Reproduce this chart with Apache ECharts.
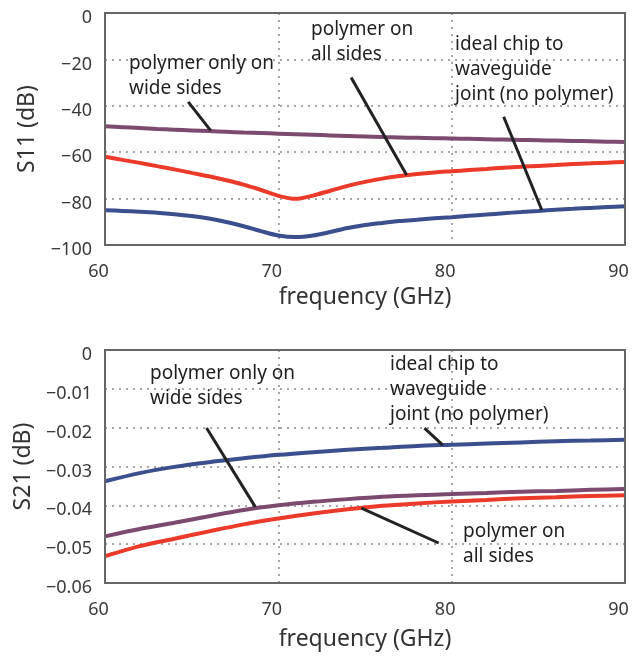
<!DOCTYPE html>
<html><head><meta charset="utf-8">
<script src="https://cdn.jsdelivr.net/npm/echarts@6/dist/echarts.min.js"></script>
<style>html,body{margin:0;padding:0;background:#fff}#c{width:635px;height:657px}</style>
</head><body><div id="c"></div>
<script>
// ---- data ----
const freqS11 = [60, 61, 62, 63, 64, 65, 66, 67, 68, 69, 70, 71, 72, 73, 74, 75, 76, 77, 78, 79, 80, 81, 82, 83, 84, 85, 86, 87, 88, 89, 90];
const s11Wide  = [-48.8, -49.2, -49.6, -50.0, -50.3, -50.6, -50.9, -51.2, -51.5, -51.75, -52.0, -52.25, -52.5, -52.75, -53.0, -53.25, -53.5, -53.65, -53.8, -53.95, -54.1, -54.25, -54.4, -54.55, -54.7, -54.85, -55.0, -55.15, -55.3, -55.45, -55.6];
const s11All   = [-62.0, -63.3, -64.6, -66.0, -67.4, -68.9, -70.4, -72.1, -74.0, -76.3, -78.8, -80.1, -78.7, -76.6, -74.5, -72.8, -71.4, -70.3, -69.4, -68.7, -68.2, -67.7, -67.2, -66.7, -66.3, -65.9, -65.5, -65.1, -64.8, -64.5, -64.2];
const s11Ideal = [-85.0, -85.3, -85.7, -86.1, -86.7, -87.5, -88.6, -90.1, -91.9, -94.0, -95.9, -96.6, -95.9, -94.4, -92.7, -91.4, -90.5, -89.7, -89.1, -88.5, -88.0, -87.4, -86.9, -86.3, -85.8, -85.3, -84.8, -84.4, -84.0, -83.6, -83.3];

const freqS21 = [60, 62, 64, 66, 68, 70, 72, 74, 76, 78, 80, 82, 84, 86, 88, 90];
const s21Wide  = [-0.0480, -0.0461, -0.0445, -0.0428, -0.0412, -0.0400, -0.0391, -0.0384, -0.0378, -0.0374, -0.0371, -0.0368, -0.0365, -0.0363, -0.0360, -0.0358];
const s21All   = [-0.0531, -0.0505, -0.0486, -0.0467, -0.0449, -0.0434, -0.0421, -0.0410, -0.0401, -0.0395, -0.0390, -0.0386, -0.0382, -0.0379, -0.0376, -0.0374];
const s21Ideal = [-0.0338, -0.0317, -0.0301, -0.0289, -0.0279, -0.0270, -0.0263, -0.0257, -0.0252, -0.0247, -0.0244, -0.0241, -0.0238, -0.0235, -0.0233, -0.0231];

const xTickValues = [60, 70, 80, 90];
const xTickLabels = ['60', '70', '80', '90'];
const s11TickValues = [0, -20, -40, -60, -80, -100];
const s11TickLabels = ['0', '\u221220', '\u221240', '\u221260', '\u221280', '\u2212100'];
const s21TickValues = [0, -0.01, -0.02, -0.03, -0.04, -0.05, -0.06];
const s21TickLabels = ['0', '\u22120.01', '\u22120.02', '\u22120.03', '\u22120.04', '\u22120.05', '\u22120.06'];

const xTitle = 'frequency (GHz)';
const s11Title = 'S11 (dB)';
const s21Title = 'S21 (dB)';
const textWide = 'polymer only on\nwide sides';
const textAll = 'polymer on\nall sides';
const textIdeal = 'ideal chip to\nwaveguide\njoint (no polymer)';

// pointer lines in data coordinates [start, end]
const pointersS11 = [
  [[64.8, -38.3], [66.1, -50.7]],
  [[74.2, -27.8], [77.4, -69.8]],
  [[83.0, -44.7], [85.2, -84.9]]
];
const pointersS21 = [
  [[65.86, -0.0201], [68.67, -0.0404]],
  [[78.43, -0.0201], [79.49, -0.0245]],
  [[74.79, -0.0407], [79.25, -0.0497]]
];

// ---- styling ----
const FONT = '"Noto Sans", "Open Sans", sans-serif';
const C_WIDE = '#7b4a6e', C_ALL = '#ec3a2a', C_IDEAL = '#3b4f8f';
const zip = (xs, ys) => xs.map((x, i) => [x, ys[i]]);
const lookup = (vals, labels) => v => {
  for (let i = 0; i < vals.length; i++) if (Math.abs(vals[i] - v) < 1e-9) return labels[i];
  return '';
};

function xAxisFor(gridIndex, nameGap) {
  return {
    type: 'value', gridIndex, min: 60, max: 90, interval: 10,
    name: xTitle, nameLocation: 'middle', nameGap,
    nameTextStyle: { fontFamily: FONT, fontSize: 23, color: '#333' },
    axisLine: { show: false }, axisTick: { show: false },
    axisLabel: { fontFamily: FONT, fontSize: 18, color: '#3a3a3a', margin: 18,
      padding: [0, 13, 0, 0], formatter: lookup(xTickValues, xTickLabels) },
    splitLine: { show: true, lineStyle: { color: '#8a8a8a', width: 1.5, type: [2, 5] } }
  };
}
function yAxisFor(gridIndex, min, interval, vals, labels, title) {
  return {
    type: 'value', gridIndex, min, max: 0, interval,
    name: title, nameLocation: 'middle', nameGap: 66, nameRotate: 90,
    nameTextStyle: { fontFamily: FONT, fontSize: 23, color: '#333' },
    axisLine: { show: false }, axisTick: { show: false },
    axisLabel: { fontFamily: FONT, fontSize: 18, color: '#3a3a3a', margin: 13,
      verticalAlign: 'top', lineHeight: 10, formatter: lookup(vals, labels) },
    splitLine: { show: true, lineStyle: { color: '#8a8a8a', width: 1.5, type: [2, 5] } }
  };
}
function lineSeries(name, xi, data, color, pointers) {
  const s = {
    name, type: 'line', xAxisIndex: xi, yAxisIndex: xi, data,
    smooth: 0.3, showSymbol: false, symbol: 'none',
    lineStyle: { color, width: 4 }, z: 2, silent: true
  };
  if (pointers) {
    s.markLine = {
      silent: true, symbol: ['none', 'none'], animation: false,
      label: { show: false },
      lineStyle: { color: '#222', width: 3, type: 'solid' },
      emphasis: { disabled: true },
      data: pointers.map(p => [{ coord: p[0] }, { coord: p[1] }])
    };
  }
  return s;
}
function annot(text, x, y) {
  return { type: 'text', x, y, silent: true, z: 10,
    style: { text, fontFamily: FONT, fontSize: 19, lineHeight: 25, fill: '#1e1e1e', verticalAlign: 'top' } };
}

const chart = echarts.init(document.getElementById('c'), null, { renderer: 'canvas' });
chart.setOption({
  animation: false,
  backgroundColor: '#fff',
  grid: [
    { left: 105, right: 10, top: 13, height: 232, show: true, borderColor: '#666', borderWidth: 2, backgroundColor: 'transparent', z: 3 },
    { left: 105, right: 10, top: 350, height: 233, show: true, borderColor: '#666', borderWidth: 2, backgroundColor: 'transparent', z: 3 }
  ],
  xAxis: [ xAxisFor(0, 41), xAxisFor(1, 45) ],
  yAxis: [
    yAxisFor(0, -100, 20, s11TickValues, s11TickLabels, s11Title),
    yAxisFor(1, -0.06, 0.01, s21TickValues, s21TickLabels, s21Title)
  ],
  series: [
    lineSeries('S11 wide', 0, zip(freqS11, s11Wide), C_WIDE, pointersS11),
    lineSeries('S11 all', 0, zip(freqS11, s11All), C_ALL),
    lineSeries('S11 ideal', 0, zip(freqS11, s11Ideal), C_IDEAL),
    lineSeries('S21 wide', 1, zip(freqS21, s21Wide), C_WIDE, pointersS21),
    lineSeries('S21 all', 1, zip(freqS21, s21All), C_ALL),
    lineSeries('S21 ideal', 1, zip(freqS21, s21Ideal), C_IDEAL)
  ],
  graphic: [
    annot(textWide, 129, 51),
    annot(textAll, 311, 17),
    annot(textIdeal, 455, 32),
    annot(textWide, 150, 361),
    annot(textIdeal, 390, 352),
    annot(textAll, 463, 519)
  ]
});
</script>
</body></html>
